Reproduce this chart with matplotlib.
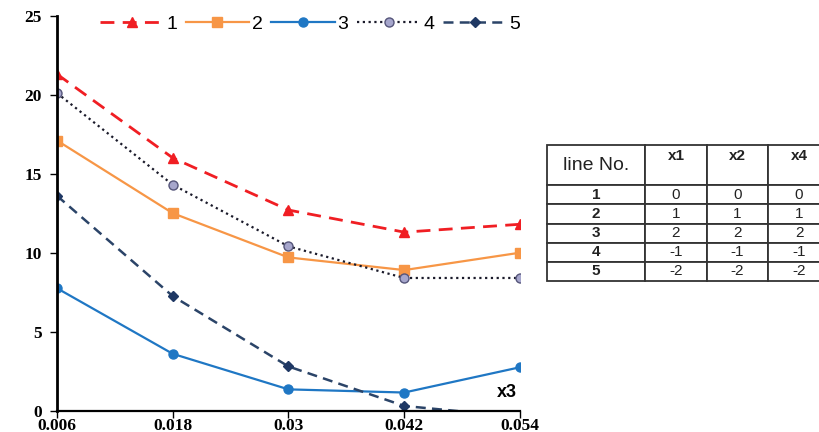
import matplotlib
matplotlib.use("Agg")
import matplotlib.pyplot as plt

x3 = [0.006, 0.018, 0.03, 0.042, 0.054]
x_labels = ["0.006", "0.018", "0.03", "0.042", "0.054"]
line1 = [21.3, 16.0, 12.7, 11.3, 11.8]
line2 = [17.1, 12.5, 9.7, 8.9, 10.0]
line3 = [7.75, 3.6, 1.35, 1.15, 2.75]
line4 = [20.1, 14.3, 10.4, 8.4, 8.4]
line5 = [13.6, 7.25, 2.8, 0.3, -0.4]
series_names = ["1", "2", "3", "4", "5"]

table_header = ["line No.", "x1", "x2", "x4"]
table_rows = [["1", "0", "0", "0"],
              ["2", "1", "1", "1"],
              ["3", "2", "2", "2"],
              ["4", "-1", "-1", "-1"],
              ["5", "-2", "-2", "-2"]]

W, H = 819, 432
fig = plt.figure(figsize=(W / 100, H / 100), dpi=100)
ax = fig.add_axes([57 / W, 21.3 / H, (520 - 57) / W, (410.7 - 15.7) / H])

ax.plot(x3, line1, color="#F01E23", ls=(0, (5, 3)), lw=2.0, marker="^", ms=7, label=series_names[0])
ax.plot(x3, line2, color="#F79646", ls="-", lw=1.6, marker="s", ms=6.5, label=series_names[1])
ax.plot(x3, line3, color="#1F77C4", ls="-", lw=1.6, marker="o", ms=6.5, label=series_names[2])
ax.plot(x3, line4, color="#1a1a2a", ls=(0, (1, 1.6)), lw=1.6, marker="o", ms=6.5,
        mfc="#A6A6CC", mec="#55557a", label=series_names[3])
ax.plot(x3, line5, color="#2B4468", ls=(0, (4, 2.5)), lw=1.8, marker="D", ms=5.5,
        mfc="#1F3864", mec="#1F3864", label=series_names[4])

ax.set_xlim(0.006, 0.054)
ax.set_ylim(0, 25)
ax.set_xticks(x3)
ax.set_xticklabels(x_labels)
ax.set_yticks([0, 5, 10, 15, 20, 25])
for sp in ["top", "right"]:
    ax.spines[sp].set_visible(False)
ax.spines["left"].set_linewidth(2.0)
ax.spines["bottom"].set_linewidth(1.6)
ax.tick_params(axis="both", length=5, width=1, direction="out")
for lbl in ax.get_xticklabels() + ax.get_yticklabels():
    lbl.set_fontfamily("Liberation Serif")
    lbl.set_fontweight("bold")
    lbl.set_fontsize(12.5)
ax.tick_params(axis="x", pad=0)
ax.tick_params(axis="y", pad=6)

ax.text(0.0537, 0.6, "x3", ha="right", va="bottom", fontsize=13, fontweight="bold",
        family="Liberation Sans")

leg = ax.legend(loc="upper left", bbox_to_anchor=(0.055, 1.045), ncol=5, frameon=False,
                prop={"family": "Liberation Sans", "size": 14}, handlelength=3.25,
                handletextpad=0.15, columnspacing=0.45)

# table
tx0, tx1 = 547, 830
ty0, ty1 = 145, 281
tax = fig.add_axes([tx0 / W, (H - ty1) / H, (tx1 - tx0) / W, (ty1 - ty0) / H])
tax.axis("off")
tax.set_xlim(0, 1)
tax.set_ylim(0, 1)
cells = [[table_header[0], "", "", ""]] + table_rows
tbl = tax.table(cellText=cells, bbox=[0, 0, 1, 1], cellLoc="center")
tbl.auto_set_font_size(False)
colw = [98, 62, 61, 62]
tot = sum(colw)
hdr_h = 40
row_h = 19
tot_h = hdr_h + row_h * 5
for (r, c), cell in tbl.get_celld().items():
    cell.set_width(colw[c] / tot)
    cell.set_height((hdr_h if r == 0 else row_h) / tot_h)
    cell.set_linewidth(1.3)
    cell.set_edgecolor("#333333")
    t = cell.get_text()
    t.set_fontsize(11)
    t.set_family("Liberation Sans")
    t.set_color("#222222")
    if r == 0:
        t.set_fontsize(14)
    elif c == 0:
        t.set_fontweight("bold")

# header labels at top of cells
xpos = 0
for c in range(4):
    if c > 0:
        tax.text((xpos + colw[c] / 2) / tot, 1 - 4 / tot_h, table_header[c],
                 ha="center", va="top", fontsize=11, fontweight="bold",
                 family="Liberation Sans", color="#222222")
    xpos += colw[c]

fig.savefig("out.png", dpi=100)
